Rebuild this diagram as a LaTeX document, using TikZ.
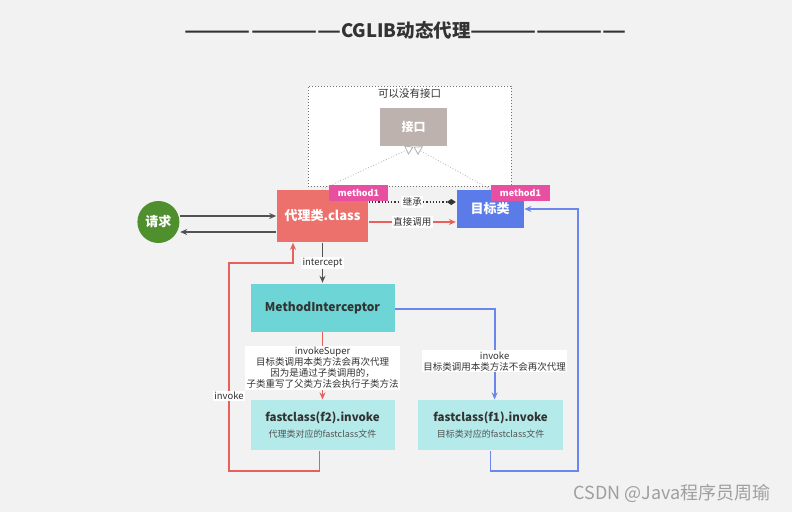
\documentclass[tikz,border=0pt]{standalone}
\usepackage{graphicx}
\usepackage{fontspec}
\setmainfont{Noto Sans CJK SC}
\usetikzlibrary{positioning,arrows.meta,calc}
\definecolor{bggray}{HTML}{F2F2F2}
\definecolor{darktext}{HTML}{333333}
\definecolor{proxyred}{HTML}{EC716C}
\definecolor{linered}{HTML}{E8605C}
\definecolor{tagpink}{HTML}{E94FA0}
\definecolor{targetblue}{HTML}{5B7BE8}
\definecolor{lineblue}{HTML}{6C86F0}
\definecolor{reqgreen}{HTML}{4F8F2E}
\definecolor{ifacegray}{HTML}{BDB2AE}
\definecolor{miteal}{HTML}{6DD5D6}
\definecolor{fcteal}{HTML}{B5EAEA}
\newcommand{\pxfont}[1]{\fontsize{#1}{#1}\selectfont}
\newcommand{\titledash}{\scalebox{1.42}[1]{———————}}
\tikzset{
  cglib/.style={x=1pt,y=-1pt,
    >={Stealth[length=7pt,width=6pt]},
    line width=1.6pt},
  box/.style={rectangle,inner sep=0pt,text=white,font=\bfseries\pxfont{13}},
  tag/.style={rectangle,fill=tagpink,text=white,inner sep=0pt,
    minimum width=59pt,minimum height=16pt,font=\bfseries\pxfont{9}},
  callbox/.style={box,text=darktext,minimum width=144pt,align=center},
  lbl/.style={fill=white,inner sep=1.5pt,text=darktext,
    font=\fontsize{9.5}{11}\selectfont,align=center},
  darkline/.style={draw=darktext!85,->},
  redline/.style={draw=linered,->},
  blueline/.style={draw=lineblue,->},
  realize/.style={dotted,draw=gray!60,line width=0.8pt,
    -{Triangle[open,length=8pt,width=10pt]}}
}

\begin{document}
\begin{tikzpicture}[cglib]
  \fill[bggray] (0,0) rectangle (792,512);
  \useasboundingbox (0,0) rectangle (792,512);
  \node[font=\bfseries\pxfont{18.5},text=darktext] (title) at (406,30) {\titledash CGLIB动态代理\titledash};
  % interface is optional
  \node[draw=darktext!70,dotted,fill=white,line width=1pt,
    minimum width=203pt,minimum height=100pt] (nointf) at (409.5,136) {};
  \node[font=\pxfont{10.5},text=darktext] (nointflbl) at (409.5,94) {可以没有接口};
  \node[box,fill=ifacegray,minimum width=67pt,minimum height=38pt,
    font=\bfseries\pxfont{12}] (iface) at (413.5,127) {接口};
  % classes
  \node[box,fill=proxyred,minimum width=91pt,minimum height=52pt] (proxy) at (322.5,216) {代理类.class};
  \node[box,fill=targetblue,minimum width=67pt,minimum height=38pt,
    right=87pt of proxy,yshift=7pt] (target) {目标类};
  \node[circle,fill=reqgreen,minimum size=42pt,inner sep=0pt,text=white,
    font=\bfseries\pxfont{13},left=96pt of proxy,yshift=-6pt] (req) {请求};
  \node[callbox,fill=miteal,minimum height=48pt,font=\bfseries\pxfont{12},
    below=40pt of proxy] (mi) {MethodInterceptor};
  \node[callbox,fill=fcteal,minimum height=50pt,font=\bfseries\pxfont{11.5},
    below=67pt of mi] (f2) {fastclass(f2).invoke\\[4pt]{\mdseries\pxfont{9}\color{darktext!85}代理类对应的fastclass文件}};
  \node[callbox,fill=fcteal,minimum width=145pt,minimum height=50pt,font=\bfseries\pxfont{11.5},
    right=22pt of f2] (f1) {fastclass(f1).invoke\\[4pt]{\mdseries\pxfont{9}\color{darktext!85}目标类对应的fastclass文件}};
  % request in and out
  \draw[darkline] ($(req.east)+(0,-6)$) -- (proxy.west);
  \draw[darkline] ($(proxy.west)+(0,16)$) -- ($(req.east)+(0,10)$);
  \draw[realize] (proxy.north) -- (iface.south);
  \draw[realize] (target.north) -- (iface.south);
  \draw[dotted,draw=darktext,line width=1.2pt,-{Diamond[length=9pt,width=6pt]}]
    ($(proxy.east)+(0,-14)$) -- node[lbl] {继承} ($(target.west)+(0,-7)$);
  \draw[redline] ($(proxy.east)+(0,6)$) -- node[lbl] {直接调用} ($(target.west)+(0,13)$);
  \node[tag] (tagp) at (358.5,193) {method1};
  \node[tag] (tagt) at (520.5,193) {method1};
  \draw[darkline] (proxy) -- node[lbl] {intercept} (mi);
  \draw[redline] (mi) -- node[lbl,yshift=-2pt] {invokeSuper\\目标类调用本类方法会再次代理\\因为是通过子类调用的，\\子类重写了父类方法会执行子类方法} (f2);
  \draw[blueline,line width=1.8pt] ($(mi.east)+(0,1)$) -| node[lbl,pos=0.79] {invoke\\目标类调用本类方法不会再次代理} ($(f1.north)+(4,0)$);
  % calls going back
  \coordinate (lbot) at (229,471);
  \coordinate (ltop) at (229,263);
  \draw[redline] ($(f2.south)+(-3,0)$) |- (lbot) -- node[lbl,pos=0.36] {invoke} (ltop) -| ($(proxy.south)+(-29.5,0)$);
  \coordinate (rbot) at (578,471);
  \coordinate (rtop) at (578,209);
  \draw[blueline] (f1.south) |- (rbot) -- (rtop) -- (target.east);
  \node[text=gray!75,font=\pxfont{18}] (mark) at (672,493) {CSDN @Java程序员周瑜};
\end{tikzpicture}
\end{document}
